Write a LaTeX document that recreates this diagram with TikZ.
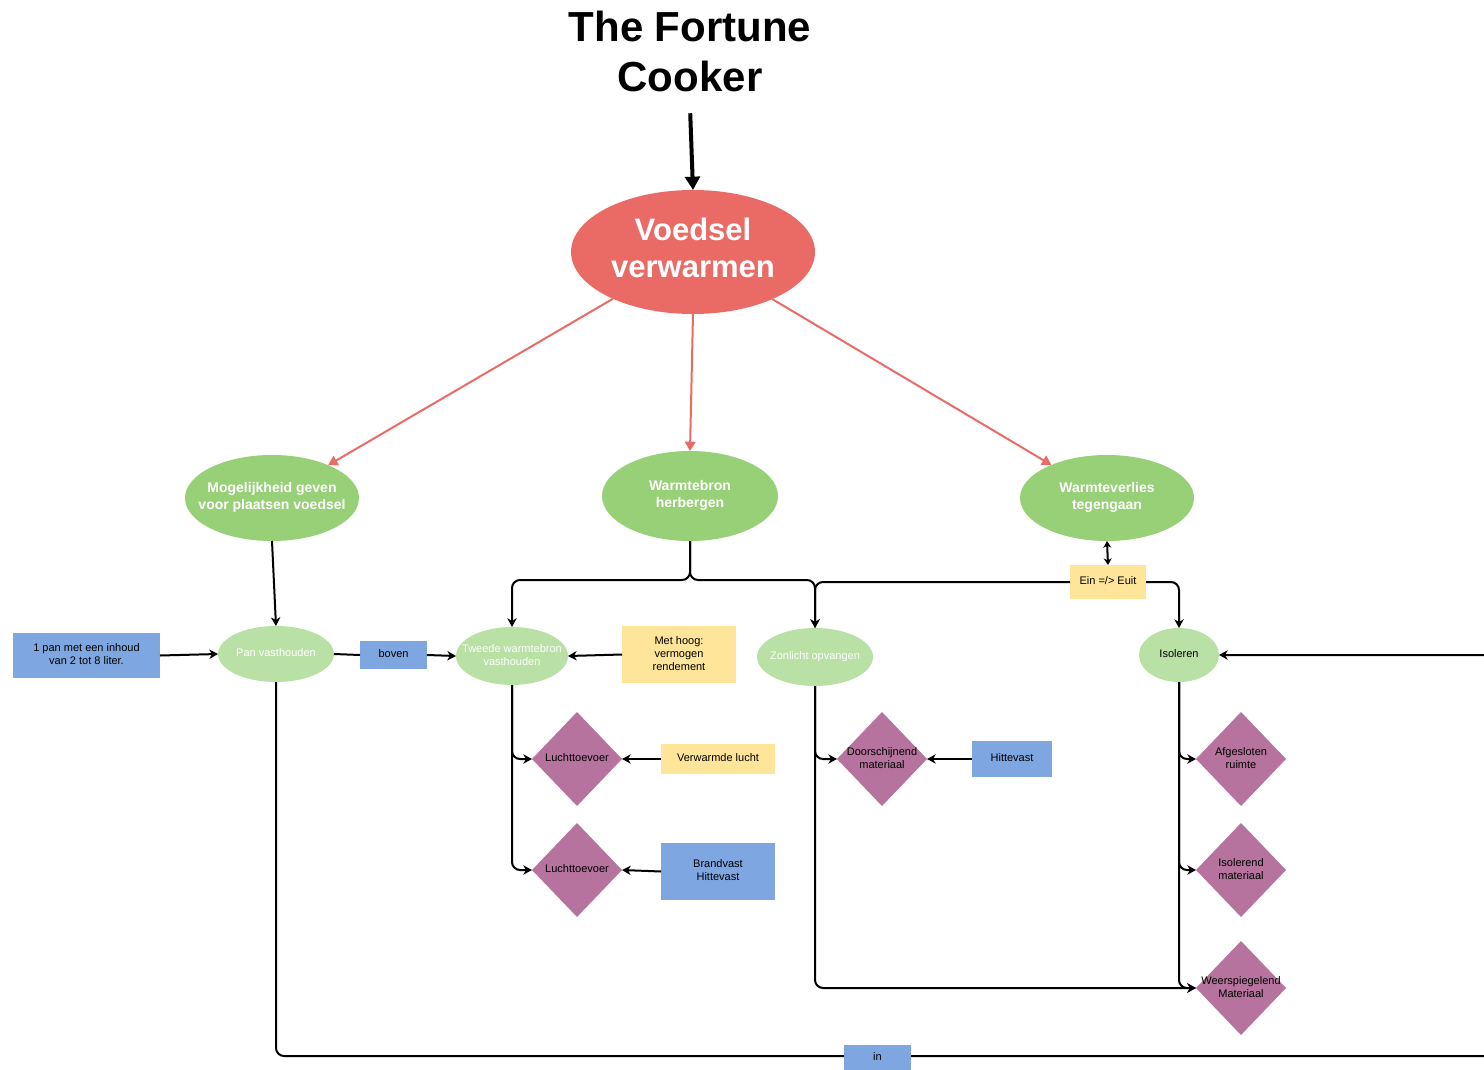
\documentclass[tikz,border=0pt]{standalone}
\usepackage{fontspec}
\setmainfont{Liberation Sans}
\usetikzlibrary{shapes.geometric,arrows.meta}
\definecolor{cred}{HTML}{EA6B66}
\definecolor{cgreen}{HTML}{97D077}
\definecolor{clgreen}{HTML}{B9E0A5}
\definecolor{cblue}{HTML}{7EA6E0}
\definecolor{cyellow}{HTML}{FFE599}
\definecolor{cpurple}{HTML}{B5739D}
\newcommand\zc[1]{\makebox[0pt]{\begin{tabular}{@{}c@{}}#1\end{tabular}}}
\tikzset{
  ell/.style={ellipse, inner sep=0pt, outer sep=0pt},
  bigell/.style={ell, fill=cred, minimum width=183pt, minimum height=93pt, text=white,
    font=\bfseries\fontsize{23.25}{27.75}\selectfont},
  mainell/.style={ell, fill=cgreen, minimum width=130.5pt, minimum height=64.5pt, text=white,
    font=\bfseries\fontsize{10.5}{12.75}\selectfont},
  subell/.style={ell, fill=clgreen, text=white, font=\fontsize{8.25}{9.75}\selectfont},
  dia/.style={diamond, inner sep=0pt, outer sep=0pt, fill=cpurple, minimum width=67.5pt,
    minimum height=70.5pt, font=\fontsize{8.25}{9.75}\selectfont},
  box/.style={rectangle, inner sep=0pt, outer sep=0pt, font=\fontsize{8.25}{9.75}\selectfont},
  bluebox/.style={box, fill=cblue},
  yellowbox/.style={box, fill=cyellow},
  conn/.style={draw=black, line width=1.5pt, rounded corners=6pt},
  arr/.style={conn, -{Stealth[length=6.5pt, width=7pt, inset=2pt]}},
  redarr/.style={draw=cred, line width=1.5pt, -{Triangle[length=7pt, width=8pt]}},
}
\begin{document}
\begin{tikzpicture}[x=0.75pt, y=-0.75pt]
\useasboundingbox (0,0) rectangle (1484,1070);

% title
\node[font=\bfseries\fontsize{31.5}{37.5}\selectfont, inner sep=0pt] (title) at (690,57) {\zc{The Fortune\\Cooker}};

% main nodes
\node[bigell] (V) at (693,252) {\raisebox{-1.5pt}{\zc{Voedsel\\verwarmen}}};
\node[mainell] (G1) at (272,498) {\zc{Mogelijkheid geven\\voor plaatsen voedsel}};
\node[mainell, minimum width=132pt, minimum height=67.5pt] (G2) at (690,496) {\zc{Warmtebron\\herbergen}};
\node[mainell] (G3) at (1107,498) {\zc{Warmteverlies\\tegengaan}};

% sub nodes
\node[subell, minimum width=87pt, minimum height=42pt] (Pan) at (276,654) {\zc{Pan vasthouden}};
\node[subell, minimum width=84pt, minimum height=43.5pt] (Tw) at (512,656) {\zc{Tweede warmtebron\\vasthouden}};
\node[subell, minimum width=87pt, minimum height=43.5pt] (Zon) at (815,657) {\zc{Zonlicht opvangen}};
\node[subell, text=black, minimum width=60pt, minimum height=40.5pt] (Iso) at (1179,655) {\zc{Isoleren}};

% boxes
\node[bluebox, minimum width=110.25pt, minimum height=33.75pt] (pan1) at (86.5,655.5) {\zc{1 pan met een inhoud\\van 2 tot 8 liter.}};
\node[bluebox, minimum width=50.25pt, minimum height=21pt] (boven) at (393.5,655) {\zc{boven}};
\node[yellowbox, minimum width=85.5pt, minimum height=42.75pt] (met) at (679,654.5) {\zc{Met hoog:\\vermogen\\rendement}};
\node[yellowbox, minimum width=85.5pt, minimum height=22.5pt] (verw) at (718,759) {\zc{Verwarmde lucht}};
\node[bluebox, minimum width=85.5pt, minimum height=42.75pt] (brand) at (718,871.5) {\zc{Brandvast\\Hittevast}};
\node[bluebox, minimum width=60pt, minimum height=27pt] (hitte) at (1012,759) {\zc{Hittevast}};
\node[yellowbox, minimum width=57pt, minimum height=25.5pt] (ein) at (1108,582) {\zc{Ein =/> Euit}};

% diamonds
\node[dia] (L1) at (577,759) {\zc{Luchttoevoer}};
\node[dia] (L2) at (577,870) {\zc{Luchttoevoer}};
\node[dia] (D) at (882,759) {\zc{Doorschijnend\\materiaal}};
\node[dia] (A) at (1241,759) {\zc{Afgesloten\\ruimte}};
\node[dia] (I) at (1241,870) {\zc{Isolerend\\materiaal}};
\node[dia] (W) at (1241,988) {\zc{Weerspiegelend\\Materiaal}};

% title arrow
\draw[line width=3pt, -{Triangle[length=10pt, width=11pt]}, shorten <=4.5pt] (title.south) -- (V.north);

% red arrows
\draw[redarr] (V) -- (G1);
\draw[redarr] (V.south) -- (G2.north);
\draw[redarr] (V) -- (G3);

% black connectors
\draw[arr] (G1.south) -- (Pan.north);
\draw[arr] (pan1.east) -- (Pan.west);
\draw[conn] (Pan.east) -- (boven.west);
\draw[arr] (boven.east) -- (Tw.west);
\draw[arr] (G2.south) -- ++(0,39) -| (Tw.north);
\draw[arr] (G2.south) -- ++(0,39) -| (Zon.north);
\draw[arr] (met.west) -- (Tw.east);
\draw[arr] (Tw.south) |- (L1.west);
\draw[arr] (Tw.south) |- (L2.west);
\draw[arr] (verw.west) -- (L1.east);
\draw[arr] (brand.west) -- (L2.east);
\draw[arr] (Zon.south) |- (D.west);
\draw[arr] (Zon.south) |- (W.west);
\draw[arr] (hitte.west) -- (D.east);
\draw[conn, {Stealth[length=5pt, width=6pt, inset=1.5pt]}-{Stealth[length=5pt, width=6pt, inset=1.5pt]}] (G3.south) -- (ein.north);
\draw[arr] (ein.west) -| (Zon.north);
\draw[arr] (ein.east) -| (Iso.north);
\draw[arr] (Iso.south) |- (A.west);
\draw[arr] (Iso.south) |- (I.west);
\draw[arr] (Iso.south) |- (W.west);
\draw[arr] (Pan.south) |- (1520,1056) |- (Iso.east);
\node[bluebox, minimum width=50pt, minimum height=19.5pt] (in) at (877.5,1058) {\zc{in}};
\end{tikzpicture}
\end{document}
